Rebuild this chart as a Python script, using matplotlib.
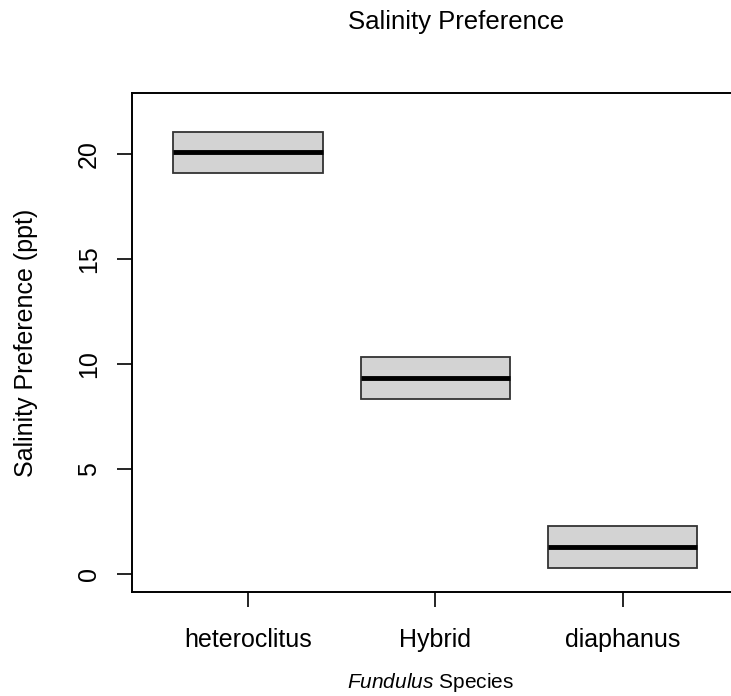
import matplotlib
matplotlib.use('Agg')
import matplotlib.pyplot as plt

# данные
species = ['heteroclitus', 'Hybrid', 'diaphanus']
q1 = [19.07, 8.31, 0.28]
medians = [20.07, 9.33, 1.28]
q3 = [21.03, 10.31, 2.28]
yticks = [0, 5, 10, 15, 20]

plt.rcParams['font.family'] = ['Liberation Sans', 'DejaVu Sans']
plt.rcParams['mathtext.fontset'] = 'custom'
plt.rcParams['mathtext.rm'] = 'Liberation Sans'
plt.rcParams['mathtext.it'] = 'Liberation Sans:italic'

fig = plt.figure(figsize=(7.31, 6.96), dpi=100)
ax = fig.add_axes([0.181, 0.1494, 0.8294, 0.7165])

stats = []
for name, a, m, b in zip(species, q1, medians, q3):
    stats.append({'label': name, 'q1': a, 'med': m, 'q3': b,
                  'whislo': a, 'whishi': b, 'fliers': []})

ax.bxp(stats, positions=[1, 2, 3], widths=0.8, patch_artist=True,
       showcaps=False,
       boxprops=dict(facecolor='#d3d3d3', edgecolor='#333333', linewidth=1.3),
       medianprops=dict(color='black', linewidth=3.5, solid_capstyle='butt'),
       whiskerprops=dict(linewidth=0))

ax.set_xlim(0.38, 3.62)
ax.set_ylim(-0.88, 22.88)
ax.set_xticks([1, 2, 3])
ax.set_xticklabels(species, fontsize=18)
ax.set_yticks(yticks)
ax.set_yticklabels([str(t) for t in yticks], fontsize=18, rotation=90, va='center')
ax.tick_params(axis='both', length=10.8, width=1.2, color='black')
ax.tick_params(axis='x', pad=15)
ax.tick_params(axis='y', pad=12)
for s in ax.spines.values():
    s.set_linewidth(1.4)
    s.set_color('black')

fig.text(456.5 / 731, 1 - 29 / 696, 'Salinity Preference', fontsize=18.5,
         ha='center', va='baseline')
fig.text(26 / 731, 1 - 343 / 696, 'Salinity Preference (ppt)', fontsize=18,
         rotation=90, ha='center', va='center')
fig.text(431 / 731, 1 - 688 / 696, r'$\mathit{Fundulus}$ Species', fontsize=15,
         ha='center', va='baseline')

fig.savefig('out.png', dpi=100)
